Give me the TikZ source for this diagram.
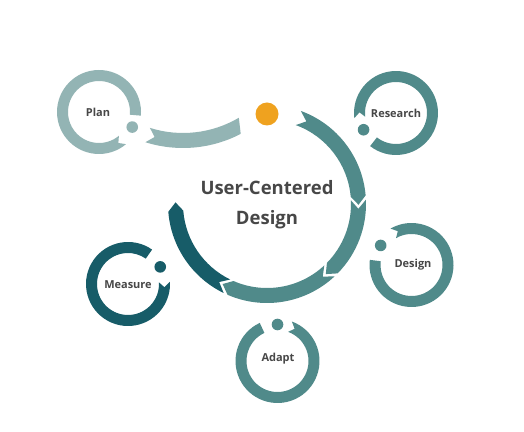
\documentclass[tikz,border=0pt]{standalone}
\usepackage{fontspec}
\setmainfont{Open Sans}
\usetikzlibrary{calc}
\definecolor{tealmid}{HTML}{508A8A}
\definecolor{tealdark}{HTML}{175C68}
\definecolor{tealpale}{HTML}{93B4B4}
\definecolor{orangedot}{HTML}{EFA21F}
\definecolor{txtgrey}{HTML}{474747}
\newcommand\mainseg[3]{%
  \pgfmathsetmacro\tipang{#2-5.5}%
  \pgfmathsetmacro\notang{#1-5.5}%
  \fill[#3] (#1:99) arc[start angle=#1, end angle=#2, radius=99] -- (\tipang:91.5) -- (#2:84)
    arc[start angle=#2, end angle=#1, radius=84] -- (\notang:91.5) -- cycle;
}
\newcommand\smallring[6]{%
  \begin{scope}[shift={(#1,#2)}]
  \pgfmathsetmacro\notchang{#4-8}%
  \fill[#5] (#3:42) arc[start angle=#3, end angle=#4, radius=42] -- (\notchang:36.5) -- (#4:31)
    arc[start angle=#4, end angle=#3, radius=31] -- cycle;
  \fill[#5] (#6:36.5) circle[radius=5.8];
  \end{scope}
}
\begin{document}
\begin{tikzpicture}[x=1pt,y=1pt,
  lbl/.style={font=\bfseries\fontsize{11}{13}\selectfont, text=txtgrey},
  titletext/.style={font=\bfseries\fontsize{18.5}{30}\selectfont, text=txtgrey, align=center}]
\useasboundingbox (0,0) rectangle (524,431);
\fill[white] (0,0) rectangle (524,431);

% central cycle
\begin{scope}[shift={(267,227)}]
  \mainseg{70}{5}{tealmid}
  \mainseg{2.5}{-44.5}{tealmid}
  \mainseg{-47}{-113.5}{tealmid}
  \mainseg{-116}{-175.5}{tealdark}
  \fill[orangedot] (90:90) circle[radius=11.5];
\end{scope}

% plan arrow
\begin{scope}[shift={(183,408)}]
  \fill[tealpale] (-107.5:125) arc[start angle=-107.5, end angle=-62.5, radius=125] -- (-59.5:110)
    arc[start angle=-59.5, end angle=-107.5, radius=110] -- (-104:117.5) -- cycle;
\end{scope}

% small rings
\smallring{99}{319}{-5}{310}{tealpale}{-24.4}
\smallring{396}{318}{232}{547}{tealmid}{207.3}
\smallring{411.5}{166}{173}{480}{tealmid}{147.6}
\smallring{277.5}{70}{115}{430}{tealmid}{90}
\smallring{128}{147}{55}{363}{tealdark}{28}

% labels
\node[titletext] (ucd) at (267,226) {User-Centered\\Design};
\node[lbl] (plan) at (98,319) {Plan};
\node[lbl] (research) at (396,318) {Research};
\node[lbl] (design) at (413,166) {Design};
\node[lbl] (adapt) at (278,72) {Adapt};
\node[lbl] (measure) at (128,146) {Measure};
\end{tikzpicture}
\end{document}
